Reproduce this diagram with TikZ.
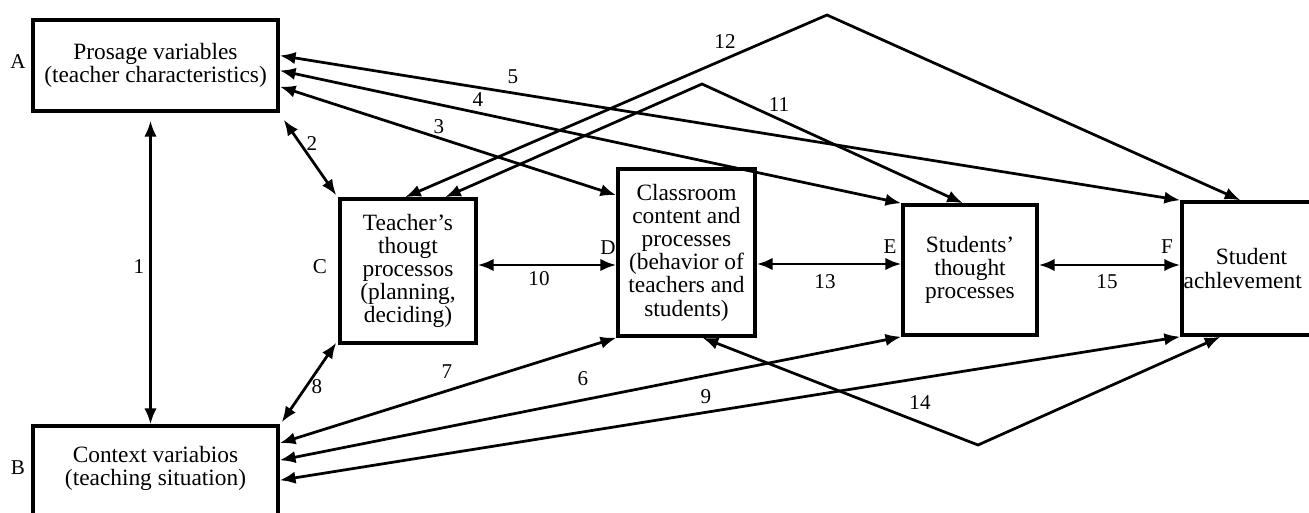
\documentclass[tikz,border=0pt]{standalone}
\usepackage{fontspec}
\setmainfont{Liberation Serif}
\usetikzlibrary{calc,arrows.meta}

\tikzset{
box/.style={draw, line width=0.7mm, align=center, inner sep=1pt, font=\fontsize{13.3}{13.2}\selectfont},
lnk/.style={>={Latex[length=9pt,width=7pt]}, <->, line width=0.55mm},
num/.style={font=\fontsize{12}{13}\selectfont},
}

\begin{document}
\begin{tikzpicture}[x=0.02cm,y=-0.02cm]

\useasboundingbox (0,0) rectangle (1309,513);

%\draw[help lines] (0,0) grid[step=50] (1309,513);

% boxes
\node[box, minimum width=4.9cm, minimum height=1.82cm] (A) at (155.5,65.5) {Prosage variables\\(teacher characteristics)};
\node[box, minimum width=4.9cm, minimum height=2.2cm] (B) at (155.5,481) {Context variabios\\(teaching situation)\\ \strut};
\node[box, minimum width=2.72cm, minimum height=2.88cm] (C) at (408,271) {Teacher’s\\thougt\\processos\\(planning,\\deciding)};
\node[box, minimum width=2.74cm, minimum height=3.34cm] (D) at (686.5,252.5) {Classroom\\content and\\processes\\(behavior of\\teachers and\\students)};
\node[box, minimum width=2.68cm, minimum height=2.6cm] (E) at (970,270) {Students’\\thought\\processes};
\node[box, minimum width=2.74cm, minimum height=2.66cm] (F) at (1251.5,268.5) {Student\\achlevement\hspace*{10pt}};

% letters
\node[num] (tA) at (18,62) {A};
\node[num] (tB) at (18,468) {B};
\node[num] (tC) at (320,267) {C};
\node[num] (tD) at (608,248) {D};
\node[num] (tE) at (890,247) {E};
\node[num] (tF) at (1167,247) {F};

% corners of the bent links
\coordinate (p11) at (702,84);
\coordinate (p12) at (827,15);
\coordinate (p14) at (978,445);

\coordinate (c10) at ($(C.east)+(0,-6)$);
\coordinate (c13) at ($(D.east)+(0,11.5)$);
\coordinate (c15) at ($(E.east)+(0,-5)$);

% links
\draw[lnk] ($(A.south)+(-5,8)$) -- ($(B.north)+(-5,0)$);
\draw[lnk] ($(A.south east)+(4,7)$) -- ($(C.north west)+(-2,-2)$);
\draw[lnk] ($(A.east)+(0,21)$) -- ($(D.north west)+(0,28)$);
\draw[lnk] ($(A.east)+(0,5)$) -- (E.north west);
\draw[lnk] ($(A.east)+(0,-10)$) -- (F.north west);
\draw[lnk] ($(B.north east)+(0,36)$) -- (E.south west);
\draw[lnk] ($(B.north east)+(0,19)$) -- (D.south west);
\draw[lnk] ($(B.north east)+(2,-2)$) -- ($(C.south west)+(-2,-2)$);
\draw[lnk] ($(B.north east)+(0,56)$) -- (F.south west);
\draw[lnk] (c10) -- (c10 -| D.west);
\draw[lnk] ($(C.north)+(37,0)$) -- (p11) -- ($(E.north)+(-7,0)$);
\draw[lnk] ($(C.north)+(-3,0)$) -- (p12) -- ($(F.north)+(-11,0)$);
\draw[lnk] (c13) -- (c13 -| E.west);
\draw[lnk] ($(D.south)+(16,0)$) -- (p14) -- ($(F.south)+(-31,0)$);
\draw[lnk] (c15) -- (c15 -| F.west);

% numbers
\node[num] (n1) at (139,267) {1};
\node[num] (n2) at (312,144) {2};
\node[num] (n3) at (439,127) {3};
\node[num] (n4) at (478,100) {4};
\node[num] (n5) at (513,77) {5};
\node[num] (n6) at (583,379) {6};
\node[num] (n7) at (447,372) {7};
\node[num] (n8) at (317,387) {8};
\node[num] (n9) at (706,397) {9};
\node[num] (n10) at (539,279) {10};
\node[num] (n11) at (779,105) {11};
\node[num] (n12) at (725,42) {12};
\node[num] (n13) at (825,282) {13};
\node[num] (n14) at (920,403) {14};
\node[num] (n15) at (1107,282) {15};

\end{tikzpicture}
\end{document}
